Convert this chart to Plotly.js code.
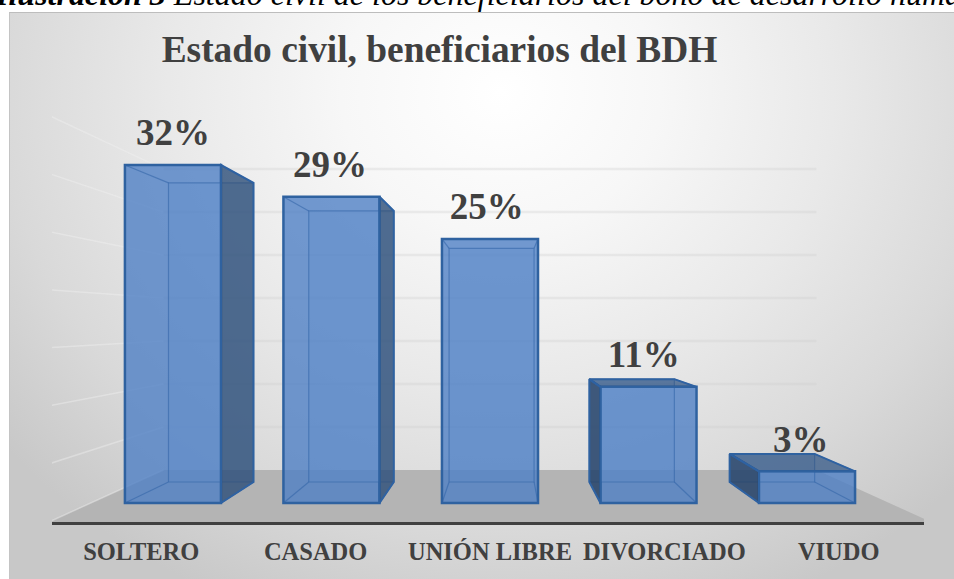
<!DOCTYPE html>
<html>
<head>
<meta charset="utf-8">
<script src="https://cdn.plot.ly/plotly-3.0.1.min.js"></script>
<style>
html,body{margin:0;padding:0;background:#fff;overflow:hidden}
#bg{position:absolute;left:9px;top:12px;width:945px;height:567px;box-sizing:border-box;border-top:1px solid #bdbdbd;border-left:1px solid #c4c4c4;
background:radial-gradient(ellipse 640px 560px at 52% 14%,#ffffff 0%,#f7f7f7 25%,#e9e9e9 52%,#d9d9d9 78%,#c8c8c8 100%)}
#chart{position:absolute;left:0;top:0;width:954px;height:579px}
</style>
</head>
<body>
<div id="bg"></div>
<div id="chart"></div>
<script>
const categories = ['SOLTERO', 'CASADO', 'UNIÓN LIBRE', 'DIVORCIADO', 'VIUDO'];
const percentages = [32, 29, 25, 11, 3];
const gridPercents = [5, 10, 15, 20, 25, 30, 35];
const chartTitle = 'Estado civil, beneficiarios del BDH';
const captionBold = 'Ilustración 3';
const captionText = 'Estado civil de los beneficiarios del bono de desarrollo humano';

const SERIF = '"Liberation Serif","Times New Roman",serif';
const INK = '#404040';
const BAR_W = 0.606;
const planes = {
  axis:  {k: 1.1,   y0: -1.8,  dx: 0},
  front: {k: 1,     y0: 0,     dx: 0},
  back:  {k: 0.885, y0: 1.99,  dx: 0.01},
  wall:  {k: 0.814, y0: 3.125, dx: 0}
};
const px = (X, p) => 2 + (X - 2) * p.k + p.dx;
const py = (v, p) => p.y0 + p.k * v;

const traces = [];
traces.push({
  type: 'bar', x: categories.map((_, i) => i), y: percentages, width: BAR_W,
  marker: {color: 'rgba(76,126,196,0.78)', line: {color: '#2f62a0', width: 2.5}},
  hoverinfo: 'skip'
});

const SOFT = 'rgba(47,98,165,0.55)';
const HARD = '#2f62a0';
function poly(xs, ys, color, edge) {
  traces.push({type: 'scatter', mode: 'lines', x: xs, y: ys, fill: 'toself', fillcolor: color,
    line: {color: edge, width: edge === SOFT ? 1.2 : 2}, hoverinfo: 'skip'});
}
percentages.forEach((v, i) => {
  const l = i - BAR_W / 2, r = i + BAR_W / 2;
  const F = planes.front, B = planes.back;
  const fl = px(l, F), fr = px(r, F), bl = px(l, B), br = px(r, B);
  const ft = py(v, F), fb = py(0, F), bt = py(v, B), bb = py(0, B);
  // back face, seen through the front
  poly([bl, br, br, bl, bl], [bb, bb, bt, bt, bb], 'rgba(90,140,205,0.18)', SOFT);
  // outer side face
  if (br > fr) poly([fr, br, br, fr, fr], [fb, bb, bt, ft, fb], 'rgba(44,78,120,0.80)', HARD);
  if (bl < fl) poly([fl, bl, bl, fl, fl], [fb, bb, bt, ft, fb], 'rgba(36,66,105,0.85)', HARD);
  // top face when it rises above the front edge
  if (bt > ft) poly([fl, fr, br, bl, fl], [ft, ft, bt, bt, ft], 'rgba(44,82,130,0.72)', HARD);
  // remaining edges
  traces.push({type: 'scatter', mode: 'lines', hoverinfo: 'skip',
    line: {color: SOFT, width: 1.2},
    x: [fl, bl, null, fr, br, null, fl, bl, null, fr, br],
    y: [ft, bt, null, ft, bt, null, fb, bb, null, fb, bb]});
});
traces.push({
  type: 'scatter', mode: 'text', x: percentages.map((_, i) => i * 0.99), y: percentages.map(v => v + 1),
  text: percentages.map(v => v + '%'), textposition: 'top center',
  textfont: {family: SERIF, size: 37, color: INK, weight: 'bold'}, hoverinfo: 'skip', cliponaxis: false
});

const shapes = [];
const WL = -0.53, WR = 4.53;
const A = planes.axis, W = planes.wall;
shapes.push({type: 'path', layer: 'below', xref: 'x', yref: 'y',
  path: `M${px(WL, A)},${py(0, A)} L${px(WR, A)},${py(0, A)} L${px(WR, W)},${py(0, W)} L${px(WL, W)},${py(0, W)} Z`,
  fillcolor: '#b4b4b4', line: {width: 0}});
gridPercents.forEach(g => {
  shapes.push({type: 'line', layer: 'below', x0: px(WL, W), x1: px(WR, W), y0: py(g, W), y1: py(g, W),
    line: {color: 'rgba(205,205,205,0.32)', width: 2.5}});
  shapes.push({type: 'line', layer: 'below', x0: px(WL, A), x1: px(WL, W), y0: py(g, A), y1: py(g, W),
    line: {color: 'rgba(240,240,240,0.42)', width: 1.5}});
});
shapes.push({type: 'line', layer: 'below', x0: px(WL, A), x1: px(WL, W), y0: py(0, A), y1: py(0, W),
  line: {color: 'rgba(235,235,235,0.5)', width: 1.5}});

const layout = {
  width: 954, height: 579,
  margin: {l: 52, r: 30, t: 0, b: 57, pad: 0},
  paper_bgcolor: 'rgba(0,0,0,0)', plot_bgcolor: 'rgba(0,0,0,0)',
  showlegend: false, barmode: 'overlay',
  title: {text: chartTitle, xref: 'container', yref: 'container', x: 439.5 / 954, xanchor: 'center',
    y: 1 - 49 / 579, yanchor: 'middle', font: {family: SERIF, size: 37.4, color: INK, weight: 'bold'}},
  xaxis: {range: [-0.763, 4.738], tickmode: 'array',
    tickvals: categories.map((_, i) => px(i, A)), ticktext: categories,
    tickfont: {family: SERIF, size: 24.5, color: INK, weight: 'bold'},
    tickangle: 0, ticks: '', ticklabelstandoff: 6,
    showgrid: false, zeroline: false, showline: true, linecolor: INK, linewidth: 3, fixedrange: true},
  yaxis: {range: [-1.8, 47.63], visible: false, fixedrange: true},
  shapes: shapes,
  annotations: [{
    xref: 'paper', yref: 'paper', x: -59 / 872, y: 1, yshift: 26, xanchor: 'left', yanchor: 'top', showarrow: false,
    text: `<b><i>${captionBold}</i></b> <i>${captionText}</i>`,
    font: {family: SERIF, size: 32, color: '#000'}
  }]
};
Plotly.newPlot('chart', traces, layout, {displayModeBar: false, staticPlot: true});
</script>
</body>
</html>
